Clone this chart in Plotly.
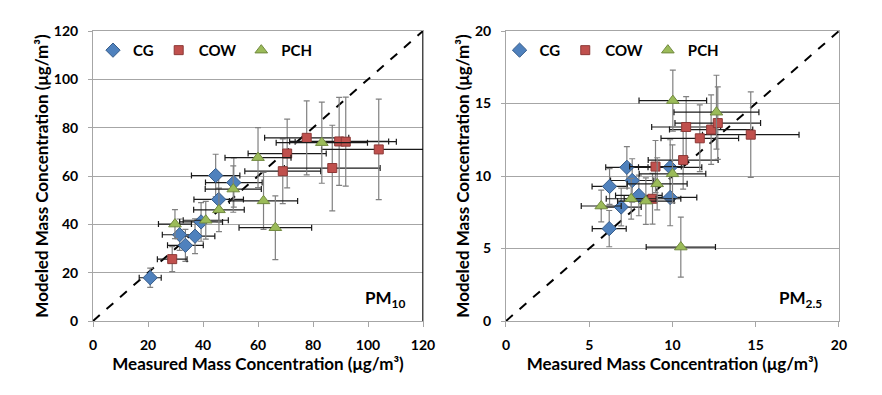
import plotly.graph_objects as go
from plotly.subplots import make_subplots

# ---------------- PM10 (left panel) ---------------- #
cg10_x = [20.8, 31.5, 33.6, 37.1, 39.3, 44.6, 45.7, 51.2]
cg10_y = [17.9, 35.7, 31.3, 35.1, 41.0, 60.2, 50.3, 57.3]
cg10_xerr = [4.0, 6.3, 6.5, 7.2, 7.8, 8.8, 9.0, 10.3]
cg10_yerr = [4.0, 6.5, 6.6, 7.2, 8.0, 8.8, 9.5, 10.2]

cow10_x = [28.8, 69.0, 70.6, 77.7, 87.0, 89.5, 91.9, 103.9]
cow10_y = [25.6, 62.0, 69.3, 75.8, 63.3, 74.3, 74.2, 71.0]
cow10_xerr = [5.4, 13.8, 14.2, 15.3, 17.4, 18.0, 18.4, 20.8]
cow10_yerr = [5.2, 13.4, 14.2, 15.3, 17.7, 18.2, 18.4, 20.8]

pch10_x = [29.8, 41.0, 45.8, 51.0, 60.0, 62.0, 66.3, 83.2]
pch10_y = [40.1, 41.7, 46.0, 54.6, 67.6, 49.7, 38.6, 73.8]
pch10_xerr = [6.0, 8.2, 9.2, 10.2, 12.0, 12.4, 13.2, 16.6]
pch10_yerr = [6.0, 7.8, 9.0, 9.6, 12.4, 11.8, 13.2, 16.8]

# ---------------- PM2.5 (right panel) ---------------- #
cg25_x = [6.20, 6.22, 6.92, 7.26, 7.58, 7.98, 9.86, 9.86]
cg25_y = [6.37, 9.28, 7.86, 10.60, 9.69, 8.66, 10.60, 8.52]
cg25_xerr = [1.02, 1.05, 1.20, 1.27, 1.30, 1.40, 1.90, 1.60]
cg25_yerr = [1.25, 1.23, 1.30, 1.43, 1.50, 1.40, 1.90, 1.95]

cow25_x = [8.80, 8.98, 10.64, 10.82, 11.64, 12.32, 12.72, 14.70]
cow25_y = [8.43, 10.65, 11.10, 13.38, 12.60, 13.20, 13.65, 12.85]
cow25_xerr = [1.70, 1.55, 2.10, 2.07, 2.33, 2.50, 2.57, 2.90]
cow25_yerr = [1.75, 1.80, 2.00, 2.10, 2.30, 2.40, 2.50, 2.95]

pch25_x = [5.72, 7.52, 8.40, 9.08, 10.00, 10.02, 10.50, 12.64]
pch25_y = [7.93, 8.43, 8.27, 9.46, 10.15, 15.20, 5.10, 14.40]
pch25_xerr = [1.20, 1.50, 1.70, 1.80, 2.00, 2.03, 2.08, 2.55]
pch25_yerr = [1.10, 1.40, 1.60, 1.80, 2.00, 2.10, 2.07, 2.55]

tickvals_10 = [0, 20, 40, 60, 80, 100, 120]
tickvals_25 = [0, 5, 10, 15, 20]

FONT = "Lato"
GRID = "#a6a6a6"

fig = make_subplots(rows=1, cols=2, horizontal_spacing=0.11)

styles = {
    "CG": dict(symbol="diamond", size=11, color="#4f81bd", line=dict(color="#385d8a", width=1)),
    "COW": dict(symbol="square", size=9, color="#c0504d", line=dict(color="#8c3836", width=1)),
    "PCH": dict(symbol="triangle-up", size=11, color="#9bbb59", line=dict(color="#71893f", width=1)),
}

panels = [
    (1, "legend", [("CG", cg10_x, cg10_y, cg10_xerr, cg10_yerr),
                   ("COW", cow10_x, cow10_y, cow10_xerr, cow10_yerr),
                   ("PCH", pch10_x, pch10_y, pch10_xerr, pch10_yerr)]),
    (2, "legend2", [("CG", cg25_x, cg25_y, cg25_xerr, cg25_yerr),
                    ("COW", cow25_x, cow25_y, cow25_xerr, cow25_yerr),
                    ("PCH", pch25_x, pch25_y, pch25_xerr, pch25_yerr)]),
]

# 1:1 line
fig.add_trace(go.Scatter(x=[0, 120], y=[0, 120], mode="lines", showlegend=False,
                         line=dict(color="black", width=2, dash="dash")), row=1, col=1)
fig.add_trace(go.Scatter(x=[0, 20], y=[0, 20], mode="lines", showlegend=False,
                         line=dict(color="black", width=2, dash="dash")), row=1, col=2)

for col, leg, series in panels:
    for name, x, y, xe, ye in series:
        fig.add_trace(
            go.Scatter(
                name=name, x=x, y=y, mode="markers", legend=leg,
                marker=styles[name],
                error_x=dict(type="data", array=xe, color="#1a1a1a", thickness=1.2, width=3),
                error_y=dict(type="data", array=ye, color="#808080", thickness=1.2, width=3),
            ),
            row=1, col=col,
        )

axis_font = dict(family=FONT, size=14, color="black", weight="bold")
title_font = dict(family=FONT, size=17, color="black", weight="bold")

common_x = dict(showgrid=False, showline=True, linecolor=GRID, mirror=True, ticks="outside",
                ticklen=5, tickcolor=GRID, tickfont=axis_font, zeroline=False, automargin=False,
                ticklabelstandoff=6, title_font=title_font, title_standoff=2,
                title_text="Measured Mass Concentration (\u03bcg/m\u00b3)")
common_y = dict(showgrid=True, gridcolor=GRID, gridwidth=1, showline=True, linecolor=GRID, mirror=True,
                ticks="outside", ticklen=4, tickcolor=GRID, tickfont=axis_font, zeroline=False,
                automargin=False, ticklabelstandoff=7, title_font=title_font, title_standoff=0,
                title_text="Modeled Mass Concentration (\u03bcg/m\u00b3)")

legend_font = dict(family=FONT, size=15, color="black", weight="bold")

fig.update_layout(
    width=882, height=395,
    paper_bgcolor="white", plot_bgcolor="white",
    margin=dict(l=85, r=51, t=23, b=82),
    xaxis=dict(common_x, domain=[0, 0.4424], range=[0, 120], tickvals=tickvals_10),
    yaxis=dict(common_y, range=[0, 120], tickvals=tickvals_10),
    xaxis2=dict(common_x, domain=[0.5536, 1], range=[0, 20], tickvals=tickvals_25),
    yaxis2=dict(common_y, range=[0, 20], tickvals=tickvals_25),
    legend=dict(orientation="h", x=0.0, y=0.99, xanchor="left", yanchor="top",
                font=legend_font, bgcolor="rgba(0,0,0,0)", itemwidth=30),
    legend2=dict(orientation="h", x=0.545, y=0.99, xanchor="left", yanchor="top",
                 font=legend_font, bgcolor="rgba(0,0,0,0)", itemwidth=30),
    annotations=[
        dict(text="PM<sub>10</sub>", xref="x", yref="y", x=114, y=9, xanchor="right",
             yanchor="middle", showarrow=False, font=dict(family=FONT, size=17, color="black", weight="bold")),
        dict(text="PM<sub>2.5</sub>", xref="x2", yref="y2", x=19.1, y=1.5, xanchor="right",
             yanchor="middle", showarrow=False, font=dict(family=FONT, size=17, color="black", weight="bold")),
    ],
    shapes=[dict(type="line", xref="x", yref="y", x0=120, x1=120, y0=0, y1=120,
                 line=dict(color="black", width=1.5))],
)

fig.write_html("out.html")
